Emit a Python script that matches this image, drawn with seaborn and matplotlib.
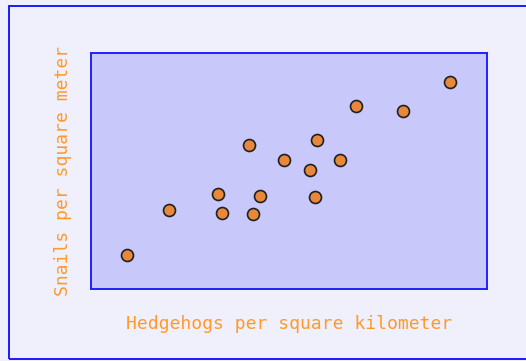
import matplotlib
matplotlib.use("Agg")
import matplotlib.pyplot as plt
import matplotlib.patches as mpatches
import seaborn as sns
import pandas as pd

hedgehogs = [4.5, 9.9, 16.0, 16.5, 19.9, 20.5, 21.3, 24.4, 27.6, 28.3, 28.5, 31.5, 33.5, 39.4, 45.3]
snails = [14.4, 33.5, 40.4, 32.1, 61.0, 31.9, 39.5, 54.8, 50.3, 39.0, 63.3, 54.8, 77.7, 75.4, 87.6]

df = pd.DataFrame({"Hedgehogs per square kilometer": hedgehogs,
                   "Snails per square meter": snails})

sns.set_theme(style="white")
plt.rcParams["font.family"] = ["DejaVu Sans Mono", "DejaVu Sans"]

fig = plt.figure(figsize=(5.26, 3.61), dpi=100)
fig.patch.set_facecolor("#f0f0fc")
frame = mpatches.Rectangle((9 / 526, 2 / 361), 1.2, 353 / 361, transform=fig.transFigure,
                           fill=False, edgecolor="#1a1aff", linewidth=1.4, zorder=0)
fig.patches.append(frame)

ax = fig.add_axes([91 / 526, 1 - 289 / 361, 396 / 526, 236 / 361])
ax.set_facecolor("#c8c8fa")
sns.scatterplot(data=df, x="Hedgehogs per square kilometer", y="Snails per square meter",
                ax=ax, s=74, color="#e8883a", edgecolor="#202020", linewidth=1.2, zorder=3)
ax.set_xlim(0, 50)
ax.set_ylim(0, 100)
ax.set_xticks([])
ax.set_yticks([])
for sp in ax.spines.values():
    sp.set_color("#2020ff")
    sp.set_linewidth(1.4)
    sp.set_visible(True)
ax.set_xlabel("Hedgehogs per square kilometer", color="#ff9a2a", fontsize=13, labelpad=18.5)
ax.set_ylabel("Snails per square meter", color="#ff9a2a", fontsize=13, labelpad=14)

fig.savefig("out.png", dpi=100, facecolor=fig.get_facecolor())
